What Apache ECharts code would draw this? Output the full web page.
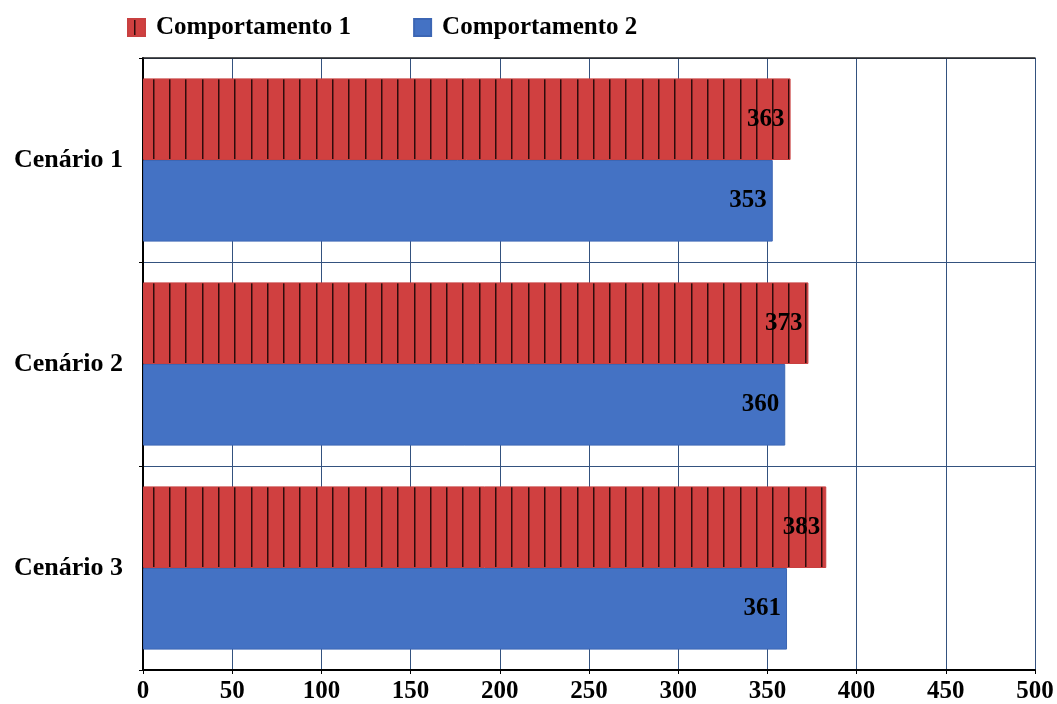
<!DOCTYPE html>
<html><head><meta charset="utf-8">
<script src="https://cdn.jsdelivr.net/npm/echarts@6/dist/echarts.min.js"></script>
<style>html,body{margin:0;padding:0;background:#fff}#c{width:1057px;height:704px}</style>
</head><body><div id="c"></div>
<script>
const categories = ['Cenário 1', 'Cenário 2', 'Cenário 3'];
const seriesNames = ['Comportamento 1', 'Comportamento 2'];
const comportamento1 = [363, 373, 383];
const comportamento2 = [353, 360, 361];
const xTicks = [0, 50, 100, 150, 200, 250, 300, 350, 400, 450, 500];

function hatch() {
  const c = document.createElement('canvas');
  c.width = 163; c.height = 10;
  const g = c.getContext('2d');
  g.fillStyle = '#D04040';
  g.fillRect(0, 0, c.width, c.height);
  g.fillStyle = '#2e0c0c';
  for (let i = 0; i < 10; i++) {
    g.fillRect(Math.round(i * 16.3) + 6, 0, 1.5, c.height);
  }
  return c;
}
const hatchPattern = { image: hatch(), repeat: 'repeat' };
const serif = '"Liberation Serif", "DejaVu Serif", serif';

const chart = echarts.init(document.getElementById('c'));
chart.setOption({
  animation: false,
  textStyle: { fontFamily: serif },
  legend: {
    left: 127, top: 15, padding: 0,
    itemWidth: 17, itemHeight: 17, itemGap: 62,
    icon: 'rect',
    textStyle: { fontFamily: serif, fontWeight: 'bold', fontSize: 25, color: '#000', padding: [0, 0, 0, 6] },
    data: seriesNames
  },
  grid: { left: 143, right: 22, top: 58, bottom: 32, containLabel: false },
  xAxis: [{
    type: 'value', min: 0, max: 500, interval: 50,
    axisLine: { show: true, lineStyle: { color: '#000', width: 2 } },
    axisTick: { show: true, length: 4, lineStyle: { color: '#000' } },
    axisLabel: { fontFamily: serif, fontWeight: 'bold', fontSize: 25, color: '#000', margin: 9,
      formatter: v => xTicks.includes(v) ? String(v) : '' },
    splitLine: { show: true, lineStyle: { color: '#34527f', width: 1 } }
  }, {
    type: 'value', position: 'top', min: 0, max: 500, interval: 50,
    axisLine: { show: true, onZero: false, lineStyle: { color: '#222', width: 1.5 } },
    axisTick: { show: false }, axisLabel: { show: false }, splitLine: { show: false }
  }],
  yAxis: {
    type: 'category', data: categories, inverse: true,
    axisLine: { show: true, lineStyle: { color: '#000', width: 2 } },
    axisTick: { show: true, length: 4, lineStyle: { color: '#000' } },
    axisLabel: { fontFamily: serif, fontWeight: 'bold', fontSize: 26, color: '#000', margin: 20 },
    splitLine: { show: true, lineStyle: { color: '#34527f', width: 1 } }
  },
  series: [{
    name: seriesNames[0], type: 'bar', data: comportamento1,
    barGap: '0%', barCategoryGap: '20%',
    itemStyle: { color: hatchPattern, borderColor: '#c84040', borderWidth: 1 },
    label: { show: true, position: 'insideRight', distance: 6,
      fontFamily: serif, fontWeight: 'bold', fontSize: 25, color: '#000' }
  }, {
    name: seriesNames[1], type: 'bar', data: comportamento2,
    barGap: '0%', barCategoryGap: '20%',
    itemStyle: { color: '#4472C4', borderColor: '#3c66b4', borderWidth: 1 },
    label: { show: true, position: 'insideRight', distance: 6,
      fontFamily: serif, fontWeight: 'bold', fontSize: 25, color: '#000' }
  }]
});
</script></body></html>
